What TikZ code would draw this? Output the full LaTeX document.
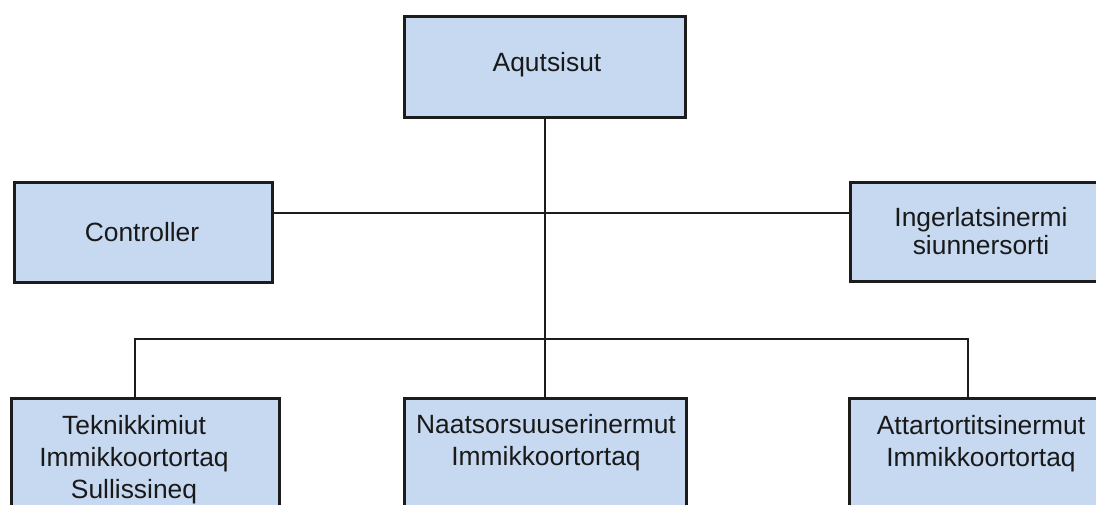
\documentclass[tikz,border=0pt]{standalone}
\usepackage{fontspec}
\setmainfont{Liberation Sans}
\usetikzlibrary{calc}
\definecolor{boxfill}{RGB}{198,217,240}
\definecolor{edgecol}{RGB}{28,28,28}
\begin{document}
\begin{tikzpicture}[x=1pt,y=-1pt,
  boxnode/.style={draw=edgecol, line width=2.6pt, fill=boxfill, inner sep=0pt, anchor=north west},
  txt/.style={font=\fontsize{26.4}{32}\selectfont, align=center, text=black!90, inner sep=0pt},
  conn/.style={draw=edgecol, line width=2.4pt}]
\useasboundingbox (0,0) rectangle (1096,504);
\clip (0,0) rectangle (1096,504);
% boxes
\node[boxnode, minimum width=281pt, minimum height=101pt] (top) at (403,15) {};
\node[boxnode, minimum width=258pt, minimum height=100pt] (ctrl) at (13,181) {};
\node[boxnode, minimum width=264pt, minimum height=99pt] (ing) at (849,181) {};
\node[boxnode, minimum width=268pt, minimum height=130pt] (b1) at (10,397) {};
\node[boxnode, minimum width=282pt, minimum height=130pt] (b2) at (403,397) {};
\node[boxnode, minimum width=266pt, minimum height=130pt] (b3) at (848,397) {};
% texts
\node[txt] (ttop) at (547,65) {Aqutsisut};
\node[txt] (tctrl) at (142,232) {Controller};
\node[txt, font=\fontsize{26.4}{28}\selectfont] (ting) at (981,231) {Ingerlatsinermi\\siunnersorti};
\node[txt] (tb1) at (134,460) {Teknikkimiut\\Immikkoortortaq\\Sullissineq};
\node[txt] (tb2) at (546,443) {Naatsorsuuserinermut\\Immikkoortortaq};
\node[txt] (tb3) at (981,444) {Attartortitsinermut\\Immikkoortortaq};
% connector coordinates
\coordinate (hj) at (542,213);
\coordinate (busL) at (135,339);
\coordinate (busR) at (968,339);
% connectors
\draw[conn] (top.south) -- (top.south |- busL);
\draw[conn] (ctrl.east |- hj) -- (ing.west |- hj);
\draw[conn] (busL |- b1.north) -- (busL) -- (busR) -- (busR |- b3.north);
\draw[conn] (top.south |- busL) -- (top.south |- b2.north);
\end{tikzpicture}
\end{document}
